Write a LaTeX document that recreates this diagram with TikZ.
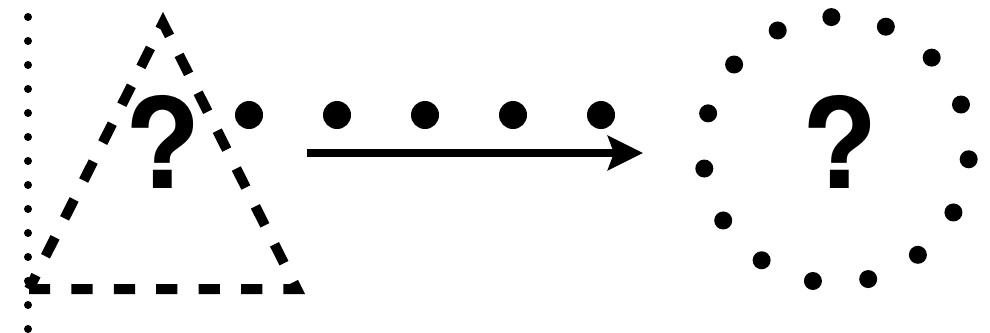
\documentclass[tikz,border=0pt]{standalone}
\usepackage{fontspec}
\setmainfont{TeX Gyre Heros}
\usetikzlibrary{arrows.meta, calc}
\tikzset{
  qmark/.style={font=\fontsize{89}{89}\selectfont\bfseries, inner sep=0pt, anchor=base},
  dashtri/.style={line width=0.25cm, dash pattern=on 0.53cm off 0.53cm, miter limit=20},
  flow/.style={-{Stealth[length=0.875cm, width=0.85cm, inset=0.15cm]}, line width=0.2cm},
}

\begin{document}
\begin{tikzpicture}[x=0.025cm, y=-0.025cm]
  \useasboundingbox (0,0) rectangle (990,332);
  % left dotted rule
  \foreach \yy in {17,41,...,329}
    \fill (28,\yy) circle[radius=0.1cm];
  % dashed triangle with its mark
  \coordinate (tl) at (29,289);
  \coordinate (tr) at (297,289);
  \coordinate (tt) at (163,23);
  \draw[dashtri] (tl) -- (tr) -- (tt) -- cycle;
  \node[qmark] (qtri) at (163,188) {?};
  % row of big dots
  \foreach \xx in {249,337,...,602}
    \fill (\xx,115) circle[radius=0.35cm];
  % arrow
  \coordinate (from) at (307,153);
  \coordinate (to) at (643,153);
  \draw[flow] (from) -- (to);
  % ring of dots with its mark
  \coordinate (ring) at (836,150);
  \foreach \k in {0,...,14}
    \fill ($(ring)+({133*cos(92-24*\k)},{-133*sin(92-24*\k)})$) circle[radius=0.225cm];
  \node[qmark] (qcirc) at (840,188) {?};
\end{tikzpicture}
\end{document}
